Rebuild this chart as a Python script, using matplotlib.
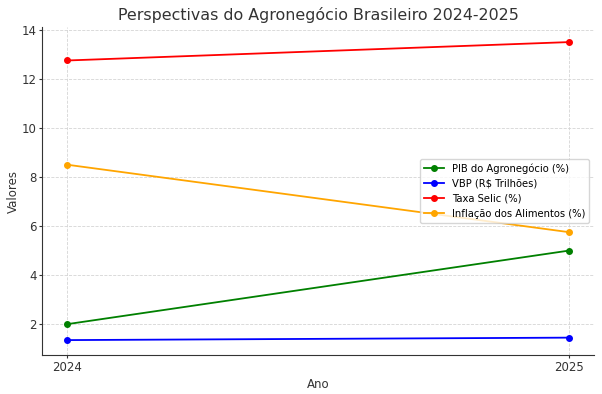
import matplotlib.pyplot as plt

# dados
anos = [2024, 2025]
pib_agro = [2.0, 5.0]
vbp = [1.35, 1.45]
selic = [12.75, 13.5]
inflacao_alimentos = [8.5, 5.75]

fig, ax = plt.subplots(figsize=(6.02, 3.94), dpi=100)

ax.plot(anos, pib_agro, marker='o', color='green', markersize=4, linewidth=1.3, label='PIB do Agronegócio (%)')
ax.plot(anos, vbp, marker='o', color='blue', markersize=4, linewidth=1.3, label='VBP (R$ Trilhões)')
ax.plot(anos, selic, marker='o', color='red', markersize=4, linewidth=1.3, label='Taxa Selic (%)')
ax.plot(anos, inflacao_alimentos, marker='o', color='orange', markersize=4, linewidth=1.3, label='Inflação dos Alimentos (%)')

ax.set_title('Perspectivas do Agronegócio Brasileiro 2024-2025', fontsize=11.4, color='#333333', pad=5)
ax.set_xlabel('Ano', fontsize=8.5, color='#333333', labelpad=3.5)
ax.set_ylabel('Valores', fontsize=8.5, color='#333333', labelpad=1.5)
ax.set_xticks(anos)
ax.tick_params(labelsize=8.5, colors='#333333', length=2, pad=2)

ax.grid(True, linestyle='--', color='#d5d5d5', linewidth=0.6)
ax.spines['top'].set_visible(False)
ax.spines['right'].set_visible(False)
ax.spines['left'].set_color('#333333')
ax.spines['bottom'].set_color('#333333')

ax.legend(fontsize=7.2, loc='center right', bbox_to_anchor=(1.0, 0.5))

fig.subplots_adjust(left=0.07, right=0.987, top=0.931, bottom=0.099)
fig.savefig('out.png', dpi=100)
